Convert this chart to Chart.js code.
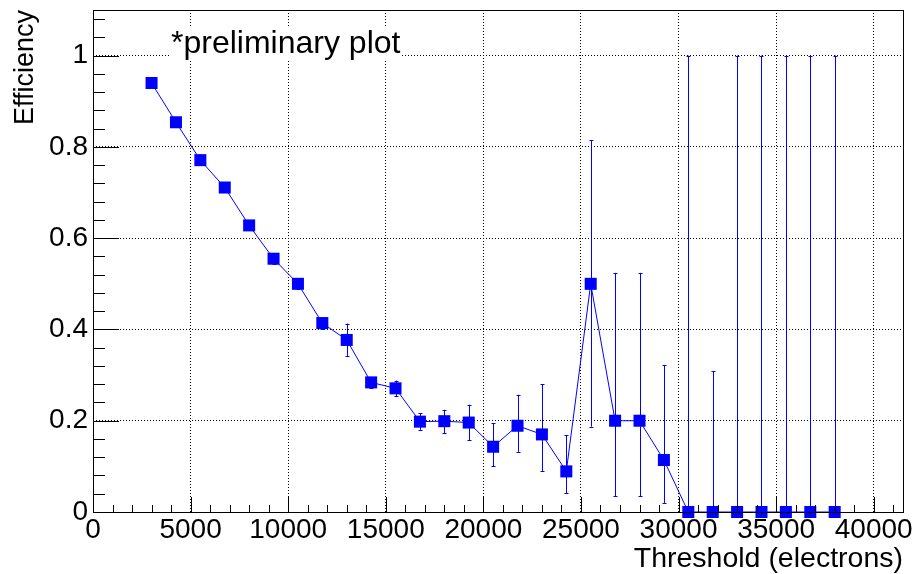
<!DOCTYPE html>
<html lang="en">
<head>
    <meta charset="UTF-8">
    <title>Efficiency vs Threshold</title>
    <script src="https://cdn.jsdelivr.net/npm/chart.js"></script>
    <style>
        body { margin: 0; background: #fff; }
        #wrap { width: 918px; height: 574px; }
    </style>
</head>
<body>
    <div id="wrap"><canvas id="effChart" width="918" height="574"></canvas></div>

    <script>
        // Threshold scan points (electrons)
        const thresholds = [3000, 4250, 5500, 6750, 8000, 9250, 10500, 11750, 13000, 14250,
            15500, 16750, 18000, 19250, 20500, 21750, 23000, 24250, 25500, 26750,
            28000, 29250, 30500, 31750, 33000, 34250, 35500, 36750, 38000];
        // Measured efficiency at each threshold
        const efficiency = [0.940, 0.854, 0.771, 0.711, 0.628, 0.555, 0.500, 0.414, 0.377, 0.284,
            0.271, 0.198, 0.199, 0.196, 0.143, 0.189, 0.170, 0.089, 0.500, 0.200,
            0.200, 0.114, 0, 0, 0, 0, 0, 0, 0];
        // Asymmetric (binomial) errors
        const errLow = [0.006, 0.008, 0.009, 0.010, 0.010, 0.011, 0.011, 0.012, 0.035, 0.012,
            0.017, 0.018, 0.026, 0.039, 0.043, 0.057, 0.080, 0.048, 0.313, 0.166,
            0.166, 0.094, 0, 0, 0, 0, 0, 0, 0];
        const errHigh = [0.006, 0.008, 0.009, 0.010, 0.010, 0.011, 0.011, 0.012, 0.036, 0.012,
            0.017, 0.019, 0.025, 0.039, 0.052, 0.068, 0.110, 0.079, 0.315, 0.324,
            0.324, 0.208, 1.0, 0.309, 1.0, 1.0, 1.0, 1.0, 1.0];

        // axis ranges and tick divisions
        const xMax = 41500, xMajor = 5000, xMinor = 1000;
        const yMax = 1.1, yMajor = 0.2, yMinor = 0.04;
        const isMajor = (v, step) => Math.abs(v / step - Math.round(v / step)) < 1e-6;
        const tickList = (max, step) => {
            const out = [];
            for (let k = 0; k * step <= max + 1e-9; k++) out.push({ value: Math.round(k * step * 1000) / 1000 });
            return out;
        };

        const FONT = 'Liberation Sans, Arial, sans-serif';
        const BLUE = '#0000ff';

        // error bars, ROOT-style inward ticks, frame and the text box
        const rootStyle = {
            id: 'rootStyle',
            beforeDatasetsDraw(chart) {
                const { ctx, scales: { x, y } } = chart;
                ctx.save();
                ctx.strokeStyle = BLUE;
                ctx.lineWidth = 1;
                thresholds.forEach((t, i) => {
                    const px = Math.round(x.getPixelForValue(t)) + 0.5;
                    const top = y.getPixelForValue(efficiency[i] + errHigh[i]);
                    const bot = y.getPixelForValue(efficiency[i] - errLow[i]);
                    ctx.beginPath();
                    ctx.moveTo(px, top);
                    ctx.lineTo(px, bot);
                    if (errHigh[i] > 0) {
                        ctx.moveTo(px - 2, Math.round(top) + 0.5);
                        ctx.lineTo(px + 2, Math.round(top) + 0.5);
                    }
                    if (errLow[i] > 0) {
                        ctx.moveTo(px - 2, Math.round(bot) + 0.5);
                        ctx.lineTo(px + 2, Math.round(bot) + 0.5);
                    }
                    ctx.stroke();
                });
                ctx.restore();
            },
            afterDraw(chart) {
                const { ctx, chartArea: a, scales: { x, y } } = chart;
                ctx.save();
                ctx.strokeStyle = '#000';
                ctx.lineWidth = 1;
                ctx.beginPath();
                x.ticks.forEach(t => {
                    const px = Math.round(x.getPixelForValue(t.value)) + 0.5;
                    const len = isMajor(t.value, xMajor) ? 15 : 7;
                    ctx.moveTo(px, a.bottom);
                    ctx.lineTo(px, a.bottom - len);
                });
                y.ticks.forEach(t => {
                    const py = Math.round(y.getPixelForValue(t.value)) + 0.5;
                    const len = isMajor(t.value, yMajor) ? 26 : 12;
                    ctx.moveTo(a.left, py);
                    ctx.lineTo(a.left + len, py);
                });
                ctx.stroke();
                ctx.strokeRect(Math.round(a.left) + 0.5, Math.round(a.top) + 0.5,
                    Math.round(a.right - a.left), Math.round(a.bottom - a.top));

                // label box
                ctx.fillStyle = '#fff';
                ctx.fillRect(170, 26, 232, 33);
                ctx.fillStyle = '#000';
                ctx.font = '32px ' + FONT;
                ctx.textBaseline = 'alphabetic';
                ctx.fillText('*preliminary plot', 171, 53);
                ctx.restore();
            }
        };

        const ctx = document.getElementById('effChart').getContext('2d');
        new Chart(ctx, {
            type: 'scatter',
            data: {
                datasets: [{
                    data: thresholds.map((t, i) => ({ x: t, y: efficiency[i] })),
                    showLine: true,
                    borderColor: BLUE,
                    borderWidth: 1,
                    backgroundColor: BLUE,
                    pointStyle: 'rect',
                    pointRadius: 8.5,
                    pointBorderWidth: 0,
                    pointHoverRadius: 8.5,
                    clip: false
                }]
            },
            options: {
                responsive: false,
                animation: false,
                layout: { padding: { top: 10, right: 15, left: 0, bottom: 0 } },
                plugins: { legend: { display: false }, tooltip: { enabled: false } },
                scales: {
                    x: {
                        type: 'linear',
                        min: 0,
                        max: xMax,
                        afterBuildTicks: s => { s.ticks = tickList(xMax, xMinor); },
                        afterFit: s => {
                            s.height = 62;
                            s.paddingLeft = 0;
                            s.paddingRight = 0;
                        },
                        border: { display: false, dash: [1, 2] },
                        grid: {
                            drawTicks: false,
                            color: c => isMajor(c.tick.value, xMajor) ? '#000' : 'rgba(0,0,0,0)'
                        },
                        ticks: {
                            autoSkip: false,
                            maxRotation: 0,
                            minRotation: 0,
                            padding: 1,
                            color: '#000',
                            font: { family: FONT, size: 28, lineHeight: 1.2 },
                            callback: v => isMajor(v, xMajor) ? String(v) : ''
                        },
                        title: {
                            display: true,
                            text: 'Threshold (electrons)',
                            align: 'end',
                            color: '#000',
                            font: { family: FONT, size: 28.5, lineHeight: 1 },
                            padding: { top: 0, bottom: 1 }
                        }
                    },
                    y: {
                        type: 'linear',
                        min: 0,
                        max: yMax,
                        afterBuildTicks: s => { s.ticks = tickList(yMax, yMinor); },
                        afterFit: s => {
                            s.width = 93;
                            s.paddingTop = 0;
                            s.paddingBottom = 0;
                        },
                        border: { display: false, dash: [1, 2] },
                        grid: {
                            drawTicks: false,
                            color: c => isMajor(c.tick.value, yMajor) ? '#000' : 'rgba(0,0,0,0)'
                        },
                        ticks: {
                            autoSkip: false,
                            padding: 5,
                            color: '#000',
                            font: { family: FONT, size: 28 },
                            callback: v => isMajor(v, yMajor) ? String(Math.round(v * 10) / 10) : ''
                        },
                        title: {
                            display: true,
                            text: 'Efficiency',
                            align: 'end',
                            color: '#000',
                            font: { family: FONT, size: 27, lineHeight: 1 },
                            padding: { top: 12, bottom: 0 }
                        }
                    }
                }
            },
            plugins: [rootStyle]
        });
    </script>
</body>
</html>
